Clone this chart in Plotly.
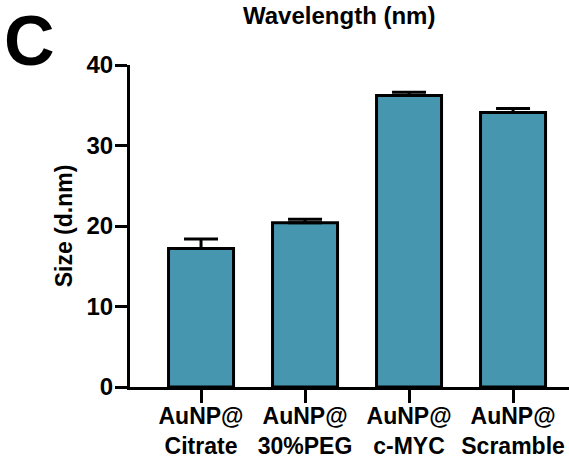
import plotly.graph_objects as go

categories = ["AuNP@<br>Citrate", "AuNP@<br>30%PEG", "AuNP@<br>c-MYC", "AuNP@<br>Scramble"]
sizes = [17.2, 20.4, 36.2, 34.1]
errors = [1.2, 0.45, 0.4, 0.5]
y_ticks = [0, 10, 20, 30, 40]

FONT = "Liberation Sans, Arial, sans-serif"
BAR_COLOR = "#4796b0"

fig = go.Figure()
fig.add_trace(go.Bar(
    x=categories,
    y=sizes,
    marker=dict(color=BAR_COLOR, line=dict(color="black", width=3)),
    error_y=dict(type="data", array=errors, arrayminus=[0] * len(errors),
                 symmetric=False, color="black", thickness=3, width=17),
    width=0.625,
))

fig.update_layout(
    template="none",
    width=569, height=457,
    margin=dict(l=130, r=0, t=65, b=70, pad=0),
    paper_bgcolor="white", plot_bgcolor="white",
    showlegend=False,
    font=dict(family=FONT, color="black", size=24, weight="bold"),
    xaxis=dict(
        automargin=False,
        range=[-0.683, 3.538],
        showline=True, linecolor="black", linewidth=3,
        ticks="outside", ticklen=13, tickwidth=3, tickcolor="black",
        tickfont=dict(family=FONT, size=23, color="black", weight="bold"),
        ticklabelstandoff=-7,
        showgrid=False, zeroline=False,
    ),
    yaxis=dict(
        automargin=False,
        range=[0, 40],
        tickvals=y_ticks,
        showline=True, linecolor="black", linewidth=3,
        ticks="outside", ticklen=12, tickwidth=3, tickcolor="black",
        tickfont=dict(family=FONT, size=24, color="black", weight="bold"),
        ticklabelstandoff=-3,
        showgrid=False, zeroline=False,
        title=dict(text="Size (d.nm)", font=dict(family=FONT, size=23, color="black", weight="bold"),
                   standoff=8),
    ),
    annotations=[
        dict(text="C", xref="paper", yref="paper", x=-0.23, y=1.075,
             xanchor="center", yanchor="middle", showarrow=False,
             font=dict(family="Liberation Sans Narrow, Liberation Sans, sans-serif", size=70,
                       color="black", weight="bold")),
        dict(text="Wavelength (nm)", xref="paper", yref="paper", x=0.476, y=1.2,
             xanchor="center", yanchor="top", showarrow=False, borderpad=0,
             font=dict(family=FONT, size=24, color="black", weight="bold")),
    ],
)

fig.write_html("out.html", config={"displayModeBar": False},
               post_script="document.body.style.margin='0';")
